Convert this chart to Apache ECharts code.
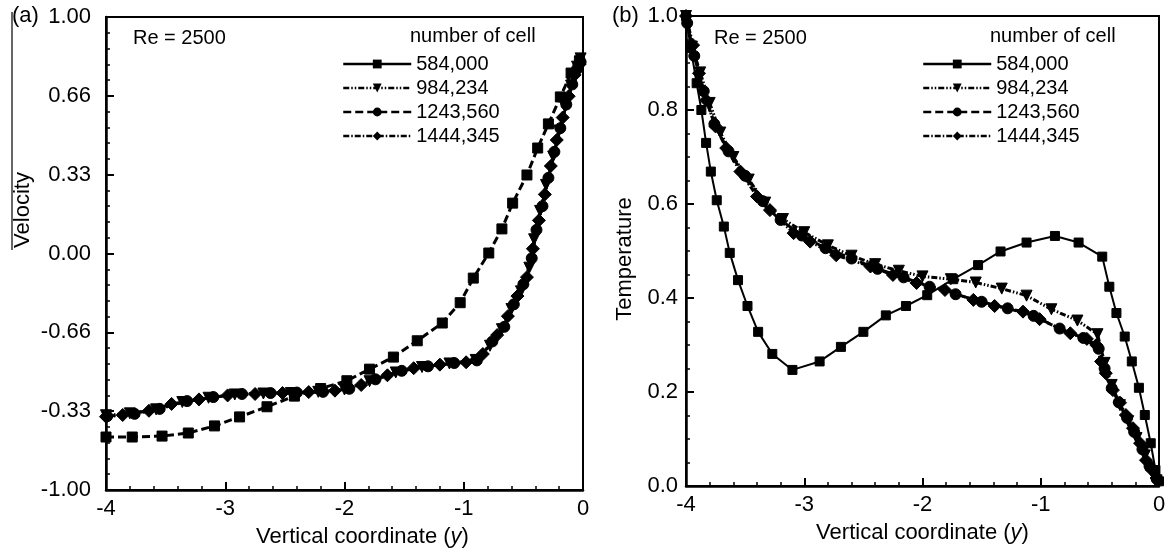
<!DOCTYPE html>
<html><head><meta charset="utf-8">
<script src="https://cdn.jsdelivr.net/npm/echarts@6/dist/echarts.min.js"></script>
<style>html,body{margin:0;padding:0;background:#fff}#c{width:1174px;height:558px}</style>
</head><body><div id="c"></div><script>
// ---------- data ----------
const seriesNames = ['584,000', '984,234', '1243,560', '1444,345'];
const velocityTickLabels = ['-1.00', '-0.33', '-0.66', '0.00', '0.33', '0.66', '1.00']; // bottom -> top
const temperatureTickLabels = ['0.0', '0.2', '0.4', '0.6', '0.8', '1.0'];
const xTickLabels = ['-4', '-3', '-2', '-1', '0'];

// panel (a) velocity vs vertical coordinate
const vel584000 = [[-4.0,-0.776],[-3.78,-0.776],[-3.53,-0.772],[-3.31,-0.759],[-3.09,-0.729],[-2.88,-0.691],[-2.65,-0.648],[-2.42,-0.603],[-2.20,-0.571],[-1.98,-0.538],[-1.79,-0.489],[-1.59,-0.438],[-1.39,-0.369],[-1.18,-0.294],[-1.03,-0.208],[-0.92,-0.104],[-0.79,0.002],[-0.68,0.104],[-0.59,0.213],[-0.47,0.332],[-0.38,0.446],[-0.29,0.548],[-0.19,0.662],[-0.10,0.763],[-0.03,0.815]];
const vel984234 = [[-4.0,-0.684],[-3.80,-0.676],[-3.58,-0.659],[-3.36,-0.628],[-3.14,-0.610],[-2.92,-0.596],[-2.68,-0.592],[-2.45,-0.590],[-2.22,-0.585],[-2.00,-0.575],[-1.79,-0.540],[-1.57,-0.503],[-1.35,-0.480],[-1.12,-0.465],[-0.90,-0.450],[-0.78,-0.390],[-0.68,-0.320],[-0.60,-0.235],[-0.52,-0.160],[-0.45,-0.060],[-0.41,0.060],[-0.36,0.180],[-0.31,0.290],[-0.25,0.410],[-0.20,0.520],[-0.15,0.620],[-0.10,0.710],[-0.05,0.790],[-0.02,0.825]];
const vel1243560 = [[-3.99,-0.688],[-3.76,-0.678],[-3.55,-0.657],[-3.32,-0.624],[-3.10,-0.607],[-2.86,-0.594],[-2.62,-0.590],[-2.40,-0.588],[-2.18,-0.585],[-1.96,-0.572],[-1.74,-0.532],[-1.52,-0.496],[-1.30,-0.477],[-1.08,-0.463],[-0.89,-0.452],[-0.76,-0.372],[-0.66,-0.310],[-0.58,-0.215],[-0.50,-0.130],[-0.43,-0.020],[-0.39,0.100],[-0.34,0.200],[-0.29,0.320],[-0.24,0.430],[-0.19,0.530],[-0.14,0.630],[-0.09,0.715],[-0.05,0.780],[-0.02,0.810]];
const vel1444345 = [[-4.0,-0.690],[-3.86,-0.683],[-3.64,-0.665],[-3.45,-0.636],[-3.22,-0.617],[-2.98,-0.600],[-2.75,-0.594],[-2.52,-0.590],[-2.30,-0.586],[-2.08,-0.580],[-1.86,-0.556],[-1.64,-0.515],[-1.42,-0.485],[-1.20,-0.470],[-0.98,-0.460],[-0.84,-0.425],[-0.72,-0.345],[-0.63,-0.265],[-0.55,-0.180],[-0.47,-0.100],[-0.42,0.020],[-0.37,0.140],[-0.32,0.250],[-0.27,0.370],[-0.22,0.480],[-0.17,0.575],[-0.12,0.665],[-0.07,0.755],[-0.03,0.800]];

// panel (b) temperature vs vertical coordinate
const temp584000 = [[-4.0,1.0],[-3.96,0.932],[-3.91,0.857],[-3.87,0.800],[-3.83,0.730],[-3.79,0.669],[-3.74,0.608],[-3.68,0.552],[-3.63,0.496],[-3.56,0.438],[-3.48,0.383],[-3.39,0.328],[-3.27,0.281],[-3.10,0.247],[-2.87,0.265],[-2.69,0.296],[-2.50,0.328],[-2.31,0.363],[-2.14,0.383],[-1.96,0.406],[-1.74,0.440],[-1.53,0.470],[-1.34,0.499],[-1.12,0.518],[-0.88,0.532],[-0.68,0.518],[-0.48,0.488],[-0.42,0.424],[-0.36,0.368],[-0.29,0.318],[-0.23,0.265],[-0.17,0.209],[-0.12,0.151],[-0.07,0.091],[-0.03,0.034],[0.0,0.010]];
const temp984234 = [[-4.0,1.0],[-3.95,0.935],[-3.88,0.880],[-3.80,0.815],[-3.71,0.752],[-3.60,0.700],[-3.47,0.652],[-3.33,0.603],[-3.18,0.568],[-3.00,0.540],[-2.80,0.512],[-2.60,0.490],[-2.40,0.472],[-2.20,0.458],[-2.00,0.446],[-1.76,0.440],[-1.55,0.433],[-1.33,0.420],[-1.12,0.405],[-0.91,0.376],[-0.69,0.352],[-0.52,0.323],[-0.46,0.262],[-0.40,0.215],[-0.33,0.172],[-0.26,0.138],[-0.19,0.102],[-0.12,0.065],[-0.06,0.030],[-0.02,0.012]];
const temp1243560 = [[-3.99,0.985],[-3.93,0.915],[-3.85,0.840],[-3.76,0.770],[-3.64,0.712],[-3.50,0.660],[-3.35,0.606],[-3.20,0.566],[-3.02,0.533],[-2.82,0.506],[-2.60,0.484],[-2.38,0.462],[-2.16,0.444],[-1.94,0.424],[-1.72,0.408],[-1.50,0.392],[-1.28,0.378],[-1.06,0.362],[-0.84,0.335],[-0.64,0.315],[-0.51,0.292],[-0.46,0.250],[-0.40,0.208],[-0.34,0.178],[-0.27,0.145],[-0.21,0.115],[-0.14,0.078],[-0.08,0.042],[-0.02,0.015]];
const temp1444345 = [[-4.0,1.0],[-3.94,0.938],[-3.89,0.878],[-3.83,0.821],[-3.75,0.765],[-3.66,0.719],[-3.54,0.669],[-3.40,0.616],[-3.29,0.587],[-3.09,0.538],[-2.95,0.520],[-2.73,0.491],[-2.44,0.467],[-2.25,0.449],[-2.05,0.432],[-1.81,0.417],[-1.57,0.396],[-1.39,0.383],[-1.15,0.371],[-1.01,0.355],[-0.75,0.325],[-0.61,0.313],[-0.53,0.300],[-0.49,0.265],[-0.45,0.240],[-0.39,0.204],[-0.33,0.177],[-0.28,0.151],[-0.22,0.123],[-0.16,0.091],[-0.11,0.055],[-0.06,0.034],[-0.02,0.017]];

// ---------- chart ----------
const FONT = '"Liberation Sans", Arial, sans-serif';
const chart = echarts.init(document.getElementById('c'), null, {renderer: 'canvas'});

const dashDotDot = [6, 2, 1.5, 2, 1.5, 2];
const dashed = [8, 4];
const dashDot = [6, 2, 1.5, 2];

function xAxisCfg(gi, padLeft) {
  return {
    type: 'value', gridIndex: gi, min: -4, max: 0, interval: 1,
    axisLine: {onZero: false, lineStyle: {color: '#000', width: 2.5}},
    axisTick: {inside: true, length: 8, lineStyle: {color: '#000', width: 2}},
    minorTick: {show: true, splitNumber: 5, length: 4, lineStyle: {color: '#000', width: 1.5}},
    splitLine: {show: false},
    axisLabel: {color: '#000', fontSize: 22, fontFamily: FONT, margin: 8,
      formatter: v => xTickLabels[Math.round(v + 4)]},
    name: 'Vertical coordinate ({i|y})', nameLocation: 'middle', nameGap: 36,
    nameTextStyle: {color: '#000', fontSize: 22, fontFamily: FONT, padding: [0, 0, 0, padLeft],
      rich: {i: {fontStyle: 'italic', fontSize: 22, fontFamily: FONT, color: '#000'}}}
  };
}

function lineSeries(name, data, symbol, dash, gi, width, size, rotate) {
  return {
    type: 'line', name, data, xAxisIndex: gi, yAxisIndex: gi,
    symbol, symbolSize: size, symbolRotate: rotate || 0, showSymbol: true,
    lineStyle: {color: '#000', width, type: dash},
    itemStyle: {color: '#000', borderColor: '#000'},
    animation: false, silent: true
  };
}

const legendData = seriesNames.map((n, i) => i === 0 ? {name: n, lineStyle: {type: 'solid', width: 2.5}} : {name: n, lineStyle: {width: 2.5}});
function legendCfg(left) {
  return {
    data: legendData, orient: 'vertical', left, top: 49, itemWidth: 68, itemHeight: 11, itemGap: 4,
    selectedMode: false, inactiveColor: '#000',
    textStyle: {color: '#000', fontSize: 20, fontFamily: FONT, lineHeight: 20}
  };
}

const option = {
  backgroundColor: '#fff',
  animation: false,
  grid: [
    {left: 106, top: 17, width: 477, height: 473, show: true, borderColor: '#000', borderWidth: 2, backgroundColor: 'transparent'},
    {left: 686, top: 16, width: 473, height: 470, show: true, borderColor: '#000', borderWidth: 2, backgroundColor: 'transparent'}
  ],
  xAxis: [xAxisCfg(0, 36), xAxisCfg(1, 0)],
  yAxis: [
    {type: 'value', gridIndex: 0, min: -1, max: 1, interval: 1 / 3,
      axisLine: {onZero: false, lineStyle: {color: '#000', width: 2.5}},
      axisTick: {inside: true, length: 8, lineStyle: {color: '#000', width: 2}},
      minorTick: {show: true, splitNumber: 5, length: 4, lineStyle: {color: '#000', width: 1.5}},
      splitLine: {show: false},
      axisLabel: {color: '#000', fontSize: 22, fontFamily: FONT, margin: 15,
        formatter: v => velocityTickLabels[Math.round((v + 1) * 3)]}
    },
    {type: 'value', gridIndex: 1, min: 0, max: 1, interval: 0.2,
      axisLine: {onZero: false, lineStyle: {color: '#000', width: 2.5}},
      axisTick: {inside: true, length: 8, lineStyle: {color: '#000', width: 2}},
      minorTick: {show: true, splitNumber: 4, length: 4, lineStyle: {color: '#000', width: 1.5}},
      splitLine: {show: false},
      axisLabel: {color: '#000', fontSize: 22, fontFamily: FONT, margin: 8,
        formatter: v => temperatureTickLabels[Math.round(v * 5)]}
    }
  ],
  legend: [legendCfg(337), legendCfg(917)],
  graphic: [
    {type: 'text', left: 12, top: 5, style: {text: '(a)', font: '22px ' + FONT, fill: '#000'}},
    {type: 'text', left: 612, top: 5, style: {text: '(b)', font: '22px ' + FONT, fill: '#000'}},
    {type: 'text', left: 133, top: 28, style: {text: 'Re = 2500', font: '20px ' + FONT, fill: '#000'}},
    {type: 'text', left: 714, top: 28, style: {text: 'Re = 2500', font: '20px ' + FONT, fill: '#000'}},
    {type: 'text', left: 410, top: 26, style: {text: 'number of cell', font: '20px ' + FONT, fill: '#000'}},
    {type: 'text', left: 990, top: 26, style: {text: 'number of cell', font: '20px ' + FONT, fill: '#000'}},
    {type: 'text', x: 23, y: 210, rotation: Math.PI / 2,
      style: {text: 'Velocity', font: '22px ' + FONT, fill: '#000', align: 'center', verticalAlign: 'middle'}},
    {type: 'line', shape: {x1: 12, y1: 12, x2: 12, y2: 250}, style: {stroke: '#000', lineWidth: 1.2}},
    {type: 'text', x: 625, y: 259, rotation: Math.PI / 2,
      style: {text: 'Temperature', font: '22px ' + FONT, fill: '#000', align: 'center', verticalAlign: 'middle'}}
  ],
  series: [
    lineSeries(seriesNames[0], vel584000, 'rect', dashed, 0, 3, 10),
    lineSeries(seriesNames[1], vel984234, 'triangle', dashDotDot, 0, 3, 11, 180),
    lineSeries(seriesNames[2], vel1243560, 'circle', dashed, 0, 3, 11),
    lineSeries(seriesNames[3], vel1444345, 'diamond', dashDot, 0, 3, 13),
    lineSeries(seriesNames[0], temp584000, 'rect', 'solid', 1, 2, 9),
    lineSeries(seriesNames[1], temp984234, 'triangle', dashDotDot, 1, 3, 11, 180),
    lineSeries(seriesNames[2], temp1243560, 'circle', dashed, 1, 3, 11),
    lineSeries(seriesNames[3], temp1444345, 'diamond', dashDot, 1, 3, 13)
  ]
};
chart.setOption(option);
</script></body></html>
